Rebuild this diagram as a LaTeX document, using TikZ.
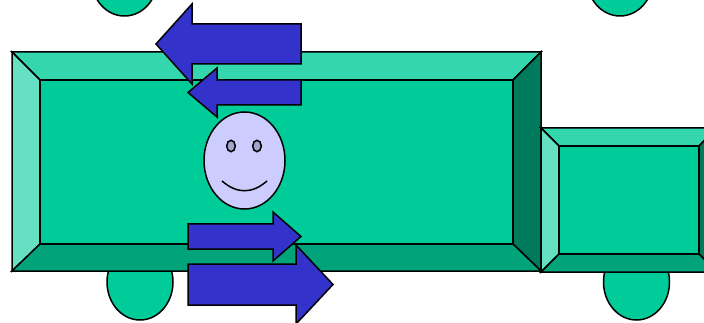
\documentclass[tikz,border=0pt]{standalone}
\usepackage{tikz}

\definecolor{body}{RGB}{0,204,153}
\definecolor{bevtop}{RGB}{51,214,173}
\definecolor{bevleft}{RGB}{102,224,194}
\definecolor{bevright}{RGB}{0,122,92}
\definecolor{bevbottom}{RGB}{0,163,122}
\definecolor{arrowblue}{RGB}{51,51,204}
\definecolor{facefill}{RGB}{204,204,255}
\definecolor{eyefill}{RGB}{163,163,204}

\begin{document}
\begin{tikzpicture}[x=1pt,y=-1pt,line join=miter,
    edge/.style={draw=black,line width=1.5pt},
    wheel/.style={edge,fill=body},
    blockarrow/.style={edge,fill=arrowblue}]
        \useasboundingbox (0,0) rectangle (704,323);
        % wheels
        \draw [wheel] (124.5,-21) ellipse (33 and 37);
        \draw [wheel] (620,-21) ellipse (33 and 37);
        \draw [wheel] (140,282) ellipse (33 and 38);
        \draw [wheel] (636.5,282) ellipse (33 and 38);
        % long car
        \draw [edge,fill=bevtop] (12,52)--(541,52)--(513,80)--(40,80)--cycle;
        \draw [edge,fill=bevleft] (12,52)--(40,80)--(40,244)--(12,271)--cycle;
        \draw [edge,fill=bevright] (541,52)--(541,271)--(513,244)--(513,80)--cycle;
        \draw [edge,fill=bevbottom] (12,271)--(541,271)--(513,244)--(40,244)--cycle;
        \draw [edge,fill=body] (40,80) rectangle (513,244);
        % short car
        \draw [edge,fill=bevtop] (541,128)--(717,128)--(699,146)--(559,146)--cycle;
        \draw [edge,fill=bevleft] (541,128)--(559,146)--(559,254)--(541,272)--cycle;
        \draw [edge,fill=bevright] (717,128)--(717,272)--(699,254)--(699,146)--cycle;
        \draw [edge,fill=bevbottom] (541,272)--(717,272)--(699,254)--(559,254)--cycle;
        \draw [edge,fill=body] (559,146) rectangle (699,254);
        % arrows to the left
        \draw [blockarrow] (156,44)--(192,4)--(192,24)--(301,24)--(301,64)--(192,64)--(192,84)--cycle;
        \draw [blockarrow] (188,92.5)--(217,68)--(217,80)--(301,80)--(301,105)--(217,105)--(217,117)--cycle;
        % arrows to the right
        \draw [blockarrow] (301,236.5)--(273,212)--(273,224)--(188,224)--(188,249)--(273,249)--(273,261)--cycle;
        \draw [blockarrow] (333,284.5)--(296,245)--(296,264)--(188,264)--(188,305)--(296,305)--(296,324)--cycle;
        % face
        \draw [edge,fill=facefill] (244.5,160.5) ellipse (40.5 and 48.5);
        \draw [edge,fill=eyefill] (231,146) ellipse (4.3 and 5.7);
        \draw [edge,fill=eyefill] (257,146) ellipse (4.3 and 5.7);
        \draw [edge] (222,181) .. controls (237,194) and (252,194) .. (267,181);
\end{tikzpicture}
\end{document}
